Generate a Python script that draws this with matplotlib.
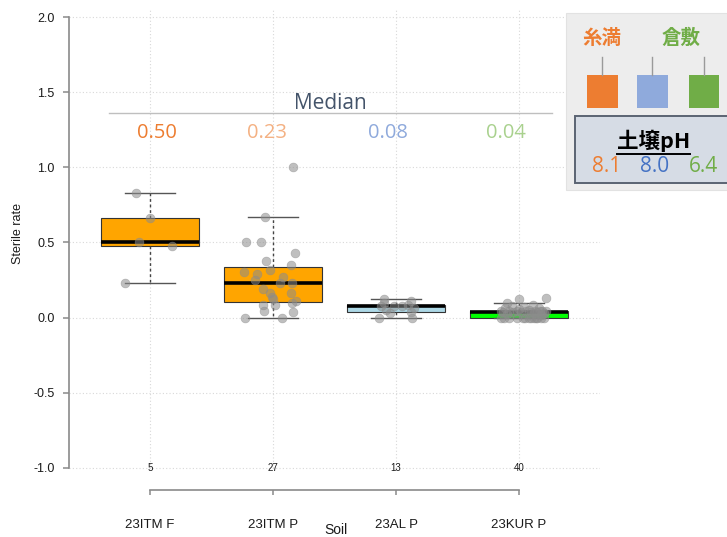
import matplotlib
matplotlib.use("Agg")
import matplotlib.pyplot as plt
from matplotlib.patches import Rectangle
import numpy as np

# ---- data -------------------------------------------------------------
soils = ["23ITM F", "23ITM P", "23AL P", "23KUR P"]

itm_f = [0.83, 0.66, 0.50, 0.48, 0.23]
itm_p = [1.00, 0.667, 0.50, 0.50, 0.433, 0.38, 0.352, 0.319, 0.307, 0.292,
         0.27, 0.253, 0.232, 0.23, 0.191, 0.165, 0.165, 0.139, 0.125, 0.11,
         0.099, 0.086, 0.081, 0.044, 0.035, 0.0, 0.0]
al_p = [0.0, 0.0, 0.03, 0.04, 0.05, 0.067, 0.077, 0.077, 0.08, 0.083,
        0.10, 0.111, 0.125]
kur_p = [0.0] * 13 + [0.02, 0.025, 0.03, 0.033, 0.036, 0.037, 0.039, 0.04,
                      0.04, 0.042, 0.043, 0.043, 0.044, 0.045, 0.045, 0.045,
                      0.045, 0.05, 0.056, 0.063, 0.067, 0.071, 0.077, 0.083,
                      0.095, 0.125, 0.13]

# horizontal jitter of the overlaid points (category units)
jit_itm_f = [-0.11, 0.0, -0.09, 0.18, -0.20]
jit_itm_p = [0.16, -0.067, -0.22, -0.096, 0.175, -0.053, 0.15, -0.028, -0.237,
             -0.128, 0.083, -0.145, 0.158, 0.055, -0.08, 0.15, -0.026, -0.007,
             0.0, 0.19, 0.153, 0.02, -0.08, -0.075, 0.16, -0.23, 0.07]
jit_al_p = [-0.14, 0.13, -0.05, 0.12, -0.08, 0.15, -0.12, 0.05, -0.02, 0.10,
            -0.10, 0.12, -0.10]
jit_kur_p = [-0.15, -0.08, -0.02, 0.03, 0.08, 0.12, 0.15, 0.18, 0.20, 0.10,
             0.14, -0.12, 0.05,
             0.18, -0.10, 0.12, 0.20, -0.05, 0.15, 0.02, -0.13, 0.10, 0.17,
             -0.02, 0.22, 0.06, -0.08, 0.13, 0.19, -0.15, 0.08, 0.0, -0.11,
             0.16, 0.04, -0.06, 0.11, -0.10, 0.0, 0.22]

groups = [itm_f, itm_p, al_p, kur_p]
jitters = [jit_itm_f, jit_itm_p, jit_al_p, jit_kur_p]
box_colors = ["#FFA500", "#FFA500", "#ADD8E6", "#00FF00"]
median_colors = ["#ED7D31", "#F4B183", "#8FAADC", "#A9D18E"]

sites = ["糸満", "倉敷"]
site_colors = ["#ED7D31", "#70AD47"]
swatch_colors = ["#ED7D31", "#8FAADC", "#70AD47"]
soil_ph = [8.1, 8.0, 6.4]
ph_colors = ["#ED7D31", "#4472C4", "#70AD47"]

# ---- figure geometry (pixels) -------------------------------------------
W, H = 727, 537
fig = plt.figure(figsize=(W / 100, H / 100), dpi=100)
ax_l, ax_r, ax_t, ax_b = 69, 600, 10, 500
ax = fig.add_axes([ax_l / W, 1 - ax_b / H, (ax_r - ax_l) / W, (ax_b - ax_t) / H])

px_per_unit = 451 / 3.0           # 2.0 -> 17 px, -1.0 -> 468 px
y_top = 2.0 + (17 - ax_t) / px_per_unit
y_bot = -1.0 - (ax_b - 468) / px_per_unit
x_pad = 81 / 123
ax.set_xlim(1 - x_pad, 4 + x_pad)
ax.set_ylim(y_bot, y_top)

sans = "Liberation Sans"
tick_col = "#1a1a1a"
axis_col = "#8a8a8a"

# grid
ax.set_yticks(np.arange(-1.0, 2.01, 0.5))
ax.grid(axis="y", linestyle=(0, (1, 2)), color="#d8d8d8", linewidth=0.8)
ax.vlines(range(1, 5), -1.0, y_top, colors="#d8d8d8", linestyles=(0, (1, 2)),
          linewidth=0.8, zorder=0)
ax.set_axisbelow(True)

# boxes
bp = ax.boxplot(groups, positions=range(1, 5), widths=0.8, patch_artist=True,
                showfliers=False, whis=1.5,
                medianprops=dict(color="black", linewidth=2.6),
                whiskerprops=dict(color="#444444", linestyle=(0, (2, 2)), linewidth=1.0),
                capprops=dict(color="#555555", linewidth=1.0),
                boxprops=dict(edgecolor="#333333", linewidth=0.8))
for patch, c in zip(bp["boxes"], box_colors):
    patch.set_facecolor(c)
for cap in bp["caps"]:
    xs = cap.get_xdata()
    mid = (xs[0] + xs[1]) / 2
    cap.set_xdata([mid - 0.2, mid + 0.2])

# jittered points
for i, (vals, jit) in enumerate(zip(groups, jitters)):
    xs = [i + 1 + j for j in jit]
    ax.scatter(xs, vals, s=40, color="#8c8c8c", alpha=0.55, edgecolors="#8c8c8c",
               linewidths=0.5, zorder=5)

# sample sizes
for i, vals in enumerate(groups):
    ax.text(i + 1, -1.0, str(len(vals)), ha="center", va="center",
            fontsize=7, family=sans, color=tick_col)

# axes styling
for s in ("top", "right"):
    ax.spines[s].set_visible(False)
ax.spines["left"].set_bounds(-1.0, 2.0)
ax.spines["left"].set_color(axis_col)
ax.spines["left"].set_linewidth(1.2)
y_bracket = -1.0 - 22 / px_per_unit
ax.spines["bottom"].set_position(("data", y_bracket))
ax.spines["bottom"].set_bounds(1, 4)
ax.spines["bottom"].set_color(axis_col)
ax.spines["bottom"].set_linewidth(1.2)

ax.set_yticklabels([f"{v:.1f}" for v in np.arange(-1.0, 2.01, 0.5)])
ax.tick_params(axis="y", length=4.5, width=1.1, color=axis_col, pad=6,
               labelsize=9, labelcolor=tick_col)
ax.set_xticks(range(1, 5))
ax.set_xticklabels(soils)
ax.tick_params(axis="x", length=3.6, width=1.1, color=axis_col, pad=17,
               labelsize=9.5, labelcolor=tick_col)
for lab in ax.get_xticklabels() + ax.get_yticklabels():
    lab.set_family(sans)

fig.text(18 / W, 1 - 234 / H, "Sterile rate", rotation=90, ha="center",
         va="center", fontsize=9, family=sans, color=tick_col)
fig.text(336 / W, 1 - 530 / H, "Soil", ha="center", va="center",
         fontsize=10, family=sans, color=tick_col)

# median annotation
def ypix(p):
    return (317.67 - p) / px_per_unit

def xpix(p):
    return 1 + (p - 150) / 123

ax.text(xpix(330), ypix(104), "Median", ha="center", va="center",
        fontsize=15, family="Open Sans", color="#44546A", zorder=6)
ax.plot([xpix(109), xpix(552)], [ypix(113.5)] * 2, color="#bfbfbf",
        linewidth=1.0, zorder=6)
label_x = [156.5, 267, 388, 506]
for vals, lx, c in zip(groups, label_x, median_colors):
    ax.text(xpix(lx), ypix(133.5), f"{np.median(vals):.2f}", ha="center",
            va="center", fontsize=14.5, family="Open Sans", color=c, zorder=6)

# ---- site / soil pH panel (pixel coordinates) ---------------------------
ov = fig.add_axes([0, 0, 1, 1], zorder=10)
ov.set_xlim(0, W)
ov.set_ylim(H, 0)
ov.axis("off")

ov.add_patch(Rectangle((566, 12.7), 180, 177.3, facecolor="#EDEDED",
                       edgecolor="#e2e2e2", linewidth=0.8))
cjk = ["Noto Sans CJK JP", "DejaVu Sans"]
for name, c, x in zip(sites, site_colors, [602, 681]):
    ov.text(x, 38.5, name, ha="center", va="center", fontsize=14,
            family=cjk, weight="bold", color=c)
for c, x0 in zip(swatch_colors, [587, 637, 688.5]):
    ov.add_patch(Rectangle((x0, 75), 30.5, 33, facecolor=c, edgecolor="none"))
    ov.plot([x0 + 15.25] * 2, [57, 75], color="#9a9a9a", linewidth=1.0)

ov.add_patch(Rectangle((575, 116), 170, 67, facecolor="#D6DCE5",
                       edgecolor="#5b6472", linewidth=1.4))
ov.text(653.5, 140.5, "土壌pH", ha="center", va="center", fontsize=15.5,
        family=cjk, weight="bold", color="black")
ov.plot([617, 690], [154, 154], color="black", linewidth=1.4)
for v, c, x in zip(soil_ph, ph_colors, [607, 654.5, 703]):
    ov.text(x, 166.5, f"{v:.1f}", ha="center", va="center", fontsize=15,
            family="Open Sans", color=c)

fig.savefig("out.png", dpi=100)
